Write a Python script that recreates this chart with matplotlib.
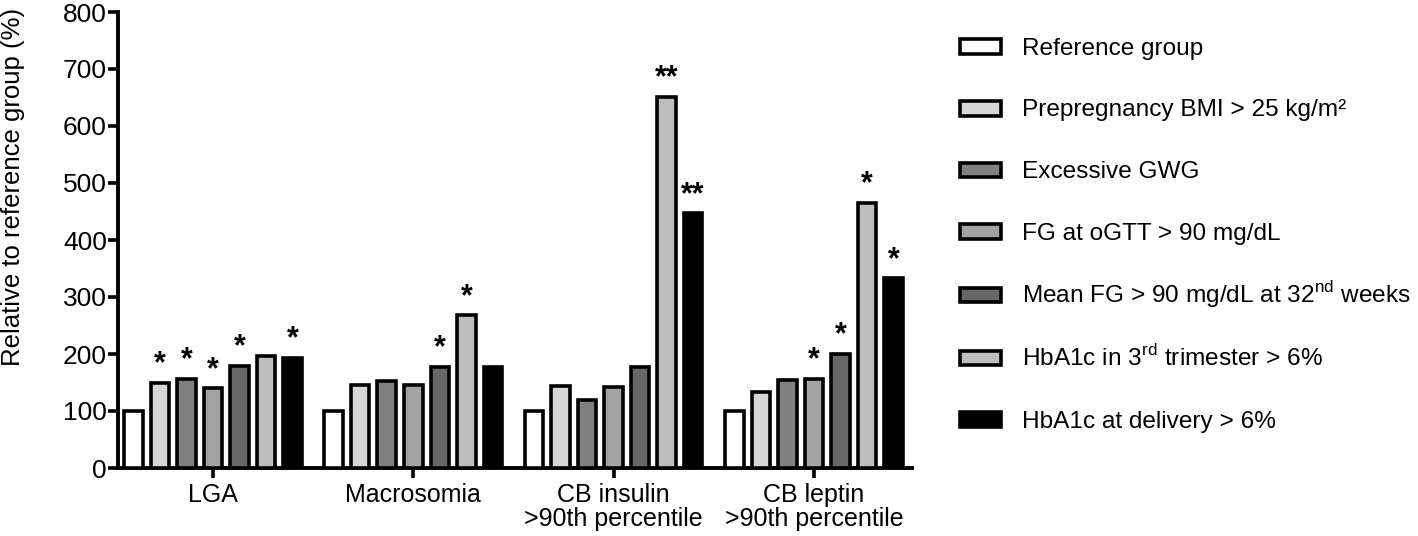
import matplotlib
matplotlib.use("Agg")
from matplotlib import pyplot as plt
from matplotlib.patches import Patch, Rectangle
from matplotlib.legend_handler import HandlerPatch
import numpy as np

plt.rcParams['font.family'] = ['Liberation Sans', 'DejaVu Sans']

# data (% relative to reference group)
categories = ["LGA", "Macrosomia", "CB insulin\n>90th percentile", "CB leptin\n>90th percentile"]
series_names = ["Reference group",
                "Prepregnancy BMI > 25 kg/m\u00b2",
                "Excessive GWG",
                "FG at oGTT > 90 mg/dL",
                "Mean FG > 90 mg/dL at 32$^{\\mathregular{nd}}$ weeks",
                "HbA1c in 3$^{\\mathregular{rd}}$ trimester > 6%",
                "HbA1c at delivery > 6%"]
ref_group = [100, 100, 100, 100]
bmi = [149, 145, 143, 134]
gwg = [157, 152, 120, 154]
fg_ogtt = [140, 145, 142, 157]
mean_fg = [179, 178, 178, 200]
hba1c_3rd = [197, 268, 651, 465]
hba1c_del = [193, 178, 447, 333]
# significance marks per series, per category
sig_bmi = ["*", "", "", ""]
sig_gwg = ["*", "", "", ""]
sig_ogtt = ["*", "", "", "*"]
sig_meanfg = ["*", "*", "", "*"]
sig_3rd = ["", "*", "**", "*"]
sig_del = ["*", "", "**", "*"]

values = [ref_group, bmi, gwg, fg_ogtt, mean_fg, hba1c_3rd, hba1c_del]
sigs = [["", "", "", ""], sig_bmi, sig_gwg, sig_ogtt, sig_meanfg, sig_3rd, sig_del]
colors = ["#ffffff", "#d6d6d6", "#808080", "#a3a3a3", "#686868", "#bebebe", "#000000"]


# legend box: small rectangle centred in a taller row so every row has same pitch
def small_rect(legend, orig_handle, xdescent, ydescent, width, height, fontsize):
    h = 0.6 * fontsize
    return Rectangle((-xdescent, -ydescent + (height - h) / 2), width, h)


fig = plt.figure(figsize=(14.18, 5.36), dpi=100)
ax = fig.add_axes([118 / 1418, 68 / 536, (912 - 118) / 1418, (468 - 12) / 536])

group_step = 7.55
centers = np.arange(len(categories)) * group_step
bar_w = 0.7

handles = []
for k, (vals, sg, c) in enumerate(zip(values, sigs, colors)):
    xs = centers + (k - 3)
    ax.bar(xs, vals, width=bar_w, color=c, edgecolor="black", linewidth=2.6, zorder=3)
    for x, v, s in zip(xs, vals, sg):
        if s:
            ax.text(x, v + 6, s, ha="center", va="bottom", fontsize=22, fontweight="bold")
    handles.append(Patch(facecolor=c, edgecolor="black", linewidth=2.6, label=series_names[k]))

ax.set_xlim(centers[0] - 3.58, centers[-1] + 3.7)
ax.set_ylim(0, 800)
ax.set_yticks(np.arange(0, 801, 100))
ax.set_xticks(centers)
ax.set_xticklabels(categories, fontsize=18, linespacing=1.0)
ax.tick_params(axis="y", labelsize=19, width=2.6, length=7, pad=1)
ax.tick_params(axis="x", width=2.6, length=7, pad=4)
ax.set_ylabel("Relative to reference group (%)", fontsize=18.5)
ax.yaxis.set_label_coords(-0.117, 0.616)
for side in ["top", "right"]:
    ax.spines[side].set_visible(False)
for side in ["left", "bottom"]:
    ax.spines[side].set_linewidth(2.8)

fig.legend(handles=handles, loc="upper left", bbox_to_anchor=(960 / 1418, 1 - 32.5 / 536),
           frameon=False, fontsize=17.6, labelspacing=1.37, handlelength=1.68,
           handleheight=1.4, handletextpad=0.86, borderaxespad=0, borderpad=0,
           handler_map={Patch: HandlerPatch(patch_func=small_rect)})

fig.savefig("out.png", dpi=100)
